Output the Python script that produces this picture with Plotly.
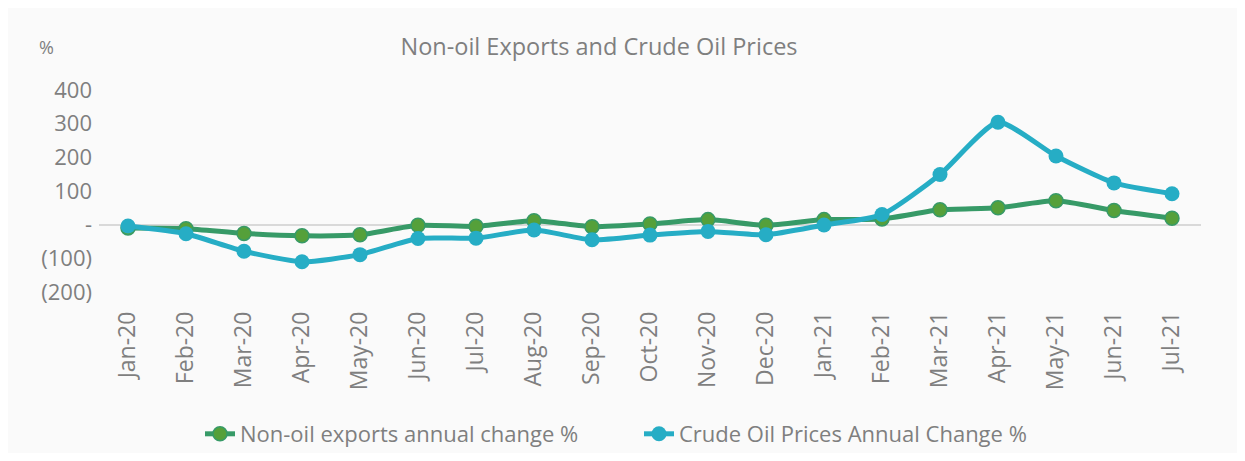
import plotly.graph_objects as go

months = ["Jan-20", "Feb-20", "Mar-20", "Apr-20", "May-20", "Jun-20", "Jul-20", "Aug-20",
          "Sep-20", "Oct-20", "Nov-20", "Dec-20", "Jan-21", "Feb-21", "Mar-21", "Apr-21",
          "May-21", "Jun-21", "Jul-21"]
non_oil = [-10, -12, -26, -33, -30, -2, -5, 12, -6, 2, 15, -2, 15, 17, 44, 50, 71, 42, 19]
crude = [-4, -27, -79, -110, -89, -41, -40, -16, -45, -31, -20, -30, -1, 30, 149, 304, 204, 124, 92]
y_ticks = [-200, -100, 0, 100, 200, 300, 400]
y_tick_text = ["(200)", "(100)", "-", "100", "200", "300", "400"]

# page body adds an 8px margin, so figure is laid out in page coords minus 8
OFF = 8
W, H = 1245 - 2 * OFF, 461 - 2 * OFF
ML = 99 - OFF
MR = W - (1201 - OFF)
MT = 90 - OFF
MB = H - (292 - OFF)
grey = "#7f7f7f"
font = "Open Sans"

fig = go.Figure()
fig.add_trace(go.Scatter(
    x=months, y=non_oil, name="Non-oil exports annual change %",
    mode="lines+markers", line=dict(color="#379a67", width=5, shape="spline", smoothing=0.6),
    marker=dict(size=14, color="#55a03a", line=dict(color="#379a67", width=1.5)),
))
fig.add_trace(go.Scatter(
    x=months, y=crude, name="Crude Oil Prices Annual Change %",
    mode="lines+markers", line=dict(color="#26adc5", width=5, shape="spline", smoothing=0.6),
    marker=dict(size=15, color="#26adc5"),
))

plot_w = W - ML - MR
plot_h = H - MT - MB

fig.update_layout(
    width=W, height=H,
    margin=dict(l=ML, r=MR, t=MT, b=MB, pad=0, autoexpand=False),
    paper_bgcolor="#fafafa", plot_bgcolor="#fafafa",
    font=dict(family=font, size=21, color=grey),
    title=dict(text="Non-oil Exports and Crude Oil Prices", font=dict(size=23.5, color=grey, family=font),
               xref="container", yref="container", x=(599 - OFF) / W, xanchor="center",
               y=1 - (47 - OFF) / H, yanchor="middle"),
    showlegend=True,
    legend=dict(orientation="h", xref="container", yref="container",
                x=(200 - OFF) / W, xanchor="left",
                y=1 - (434 - OFF) / H, yanchor="middle",
                font=dict(size=22, color=grey, family=font), bgcolor="rgba(0,0,0,0)",
                entrywidth=394, entrywidthmode="pixels"),
    xaxis=dict(type="category", showgrid=False, zeroline=False, showline=False,
               tickangle=-90, ticks="", ticklabelstandoff=14, automargin=False,
               tickfont=dict(size=23, color=grey, family=font),
               range=[-0.5, len(months) - 0.5]),
    yaxis=dict(range=[-200, 400], tickvals=y_ticks, ticktext=y_tick_text,
               showgrid=False, zeroline=True, zerolinecolor="#d9d9d9", zerolinewidth=2,
               showline=False, ticks="", ticklabelstandoff=6, automargin=False,
               tickfont=dict(size=22, color=grey, family=font)),
    annotations=[dict(text="%", xref="paper", yref="paper",
                      x=(47 - 99) / plot_w, y=(292 - 47) / plot_h,
                      xanchor="center", yanchor="middle", showarrow=False,
                      font=dict(size=18, color=grey, family=font))],
)

fig.write_html("out.html")
